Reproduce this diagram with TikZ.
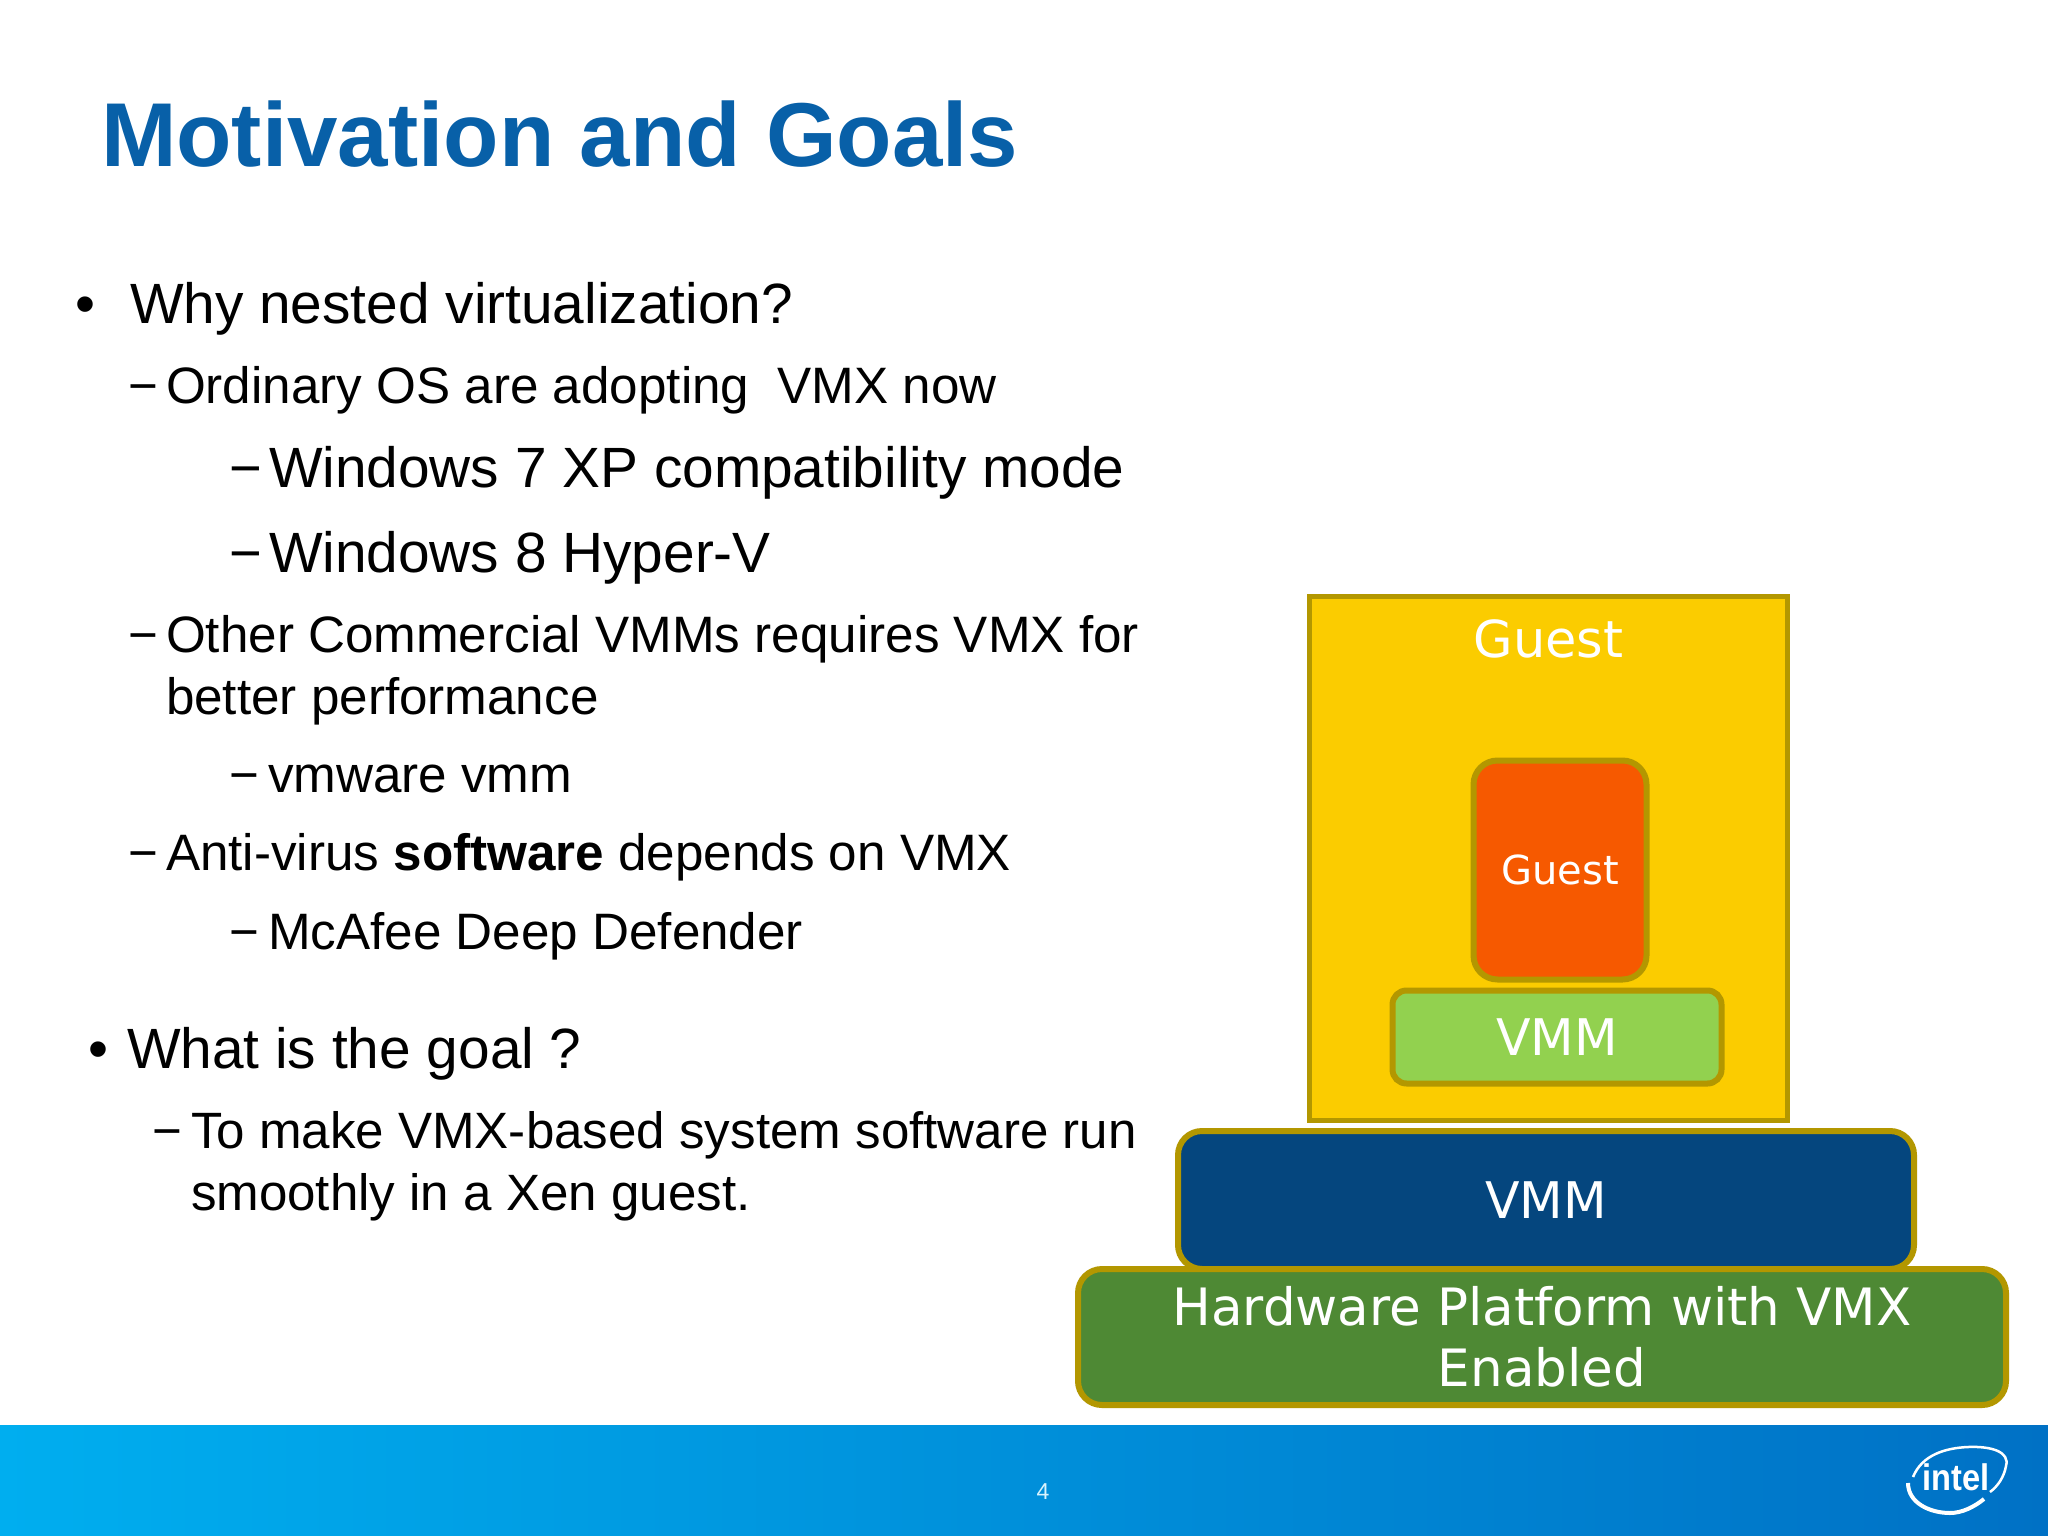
\documentclass[tikz,border=0pt]{standalone}
\usepackage{fontspec}
\setmainfont{Liberation Sans}
\newfontfamily\boxfont{DejaVu Sans}
\usetikzlibrary{positioning,calc}
\definecolor{titleblue}{HTML}{0860A8}
\definecolor{edgegold}{HTML}{B39700}
\definecolor{guestyellow}{HTML}{FBCC00}
\definecolor{guestorange}{HTML}{F65900}
\definecolor{vmmgreen}{HTML}{92D14F}
\definecolor{vmmblue}{HTML}{05467E}
\definecolor{hwgreen}{HTML}{4E8934}
\definecolor{barleft}{HTML}{00AEEF}
\definecolor{barright}{HTML}{0071C5}
\newcommand{\fs}[1]{\fontsize{#1}{#1}\selectfont}
\tikzset{
  line/.style={anchor=base west, inner sep=0pt, outer sep=0pt, text=black},
  layer/.style={draw=edgegold, line width=6pt, rounded corners=24pt, text=white, align=center, font=\boxfont, inner sep=0pt},
}
\begin{document}
\begin{tikzpicture}[x=1pt, y=-1pt]
    \useasboundingbox (0,0) rectangle (2048,1536);
    \fill[white] (0,0) rectangle (2048,1536);
    \shade[left color=barleft, right color=barright] (0,1425) rectangle (2048,1536);
    \node (title) [line, text=titleblue, font=\fs{90.7}\bfseries] at (101,166) {Motivation and Goals};
    % left column
    \node (b1)   [line, font=\fs{56.8}] at (130,323) {Why nested virtualization?};
    \node (dot1) [line, font=\fs{57}] at (75,323) {•};
    \node (l1)   [line, font=\fs{51.2}] at (166,403) {Ordinary OS are adopting\ \ VMX now};
    \node (d1)   [line, font=\fs{51}] at (128,403) {−};
    \node (l2)   [line, font=\fs{56.8}] at (269,487) {Windows 7 XP compatibility mode};
    \node (d2)   [line, font=\fs{56}] at (229,487) {−};
    \node (l3)   [line, font=\fs{56.8}] at (269,572) {Windows 8 Hyper-V};
    \node (d3)   [line, font=\fs{56}] at (229,572) {−};
    \node (l4)   [line, font=\fs{51.2}] at (166,652) {Other Commercial VMMs requires VMX for};
    \node (d4)   [line, font=\fs{51}] at (128,652) {−};
    \node (l4b)  [line, font=\fs{51.2}] at (166,714) {better performance};
    \node (l5)   [line, font=\fs{51.2}] at (268,792) {vmware vmm};
    \node (d5)   [line, font=\fs{51}] at (229,792) {−};
    \node (l6)   [line, font=\fs{51.2}] at (166,870) {Anti-virus \textbf{software} depends on VMX};
    \node (d6)   [line, font=\fs{51}] at (128,870) {−};
    \node (l7)   [line, font=\fs{51.2}] at (268,949) {McAfee Deep Defender};
    \node (d7)   [line, font=\fs{51}] at (229,949) {−};
    \node (b2)   [line, font=\fs{56.8}] at (127,1068) {What is the goal ?};
    \node (dot2) [line, font=\fs{57}] at (88,1068) {•};
    \node (l8)   [line, font=\fs{51.1}] at (191,1148) {To make VMX-based system software run};
    \node (d8)   [line, font=\fs{51}] at (152,1148) {−};
    \node (l8b)  [line, font=\fs{51.1}] at (191,1210) {smoothly in a Xen guest.};
    % stack
    \node (guest) [layer, line width=5pt, rounded corners=0pt, fill=guestyellow, minimum width=478pt, minimum height=524pt] at (1548.5,858) {};
    \node (guesttext) [text=white, font=\boxfont\fs{51}, below=26pt of guest.north, inner sep=0pt] {Guest};
    \node (inner) [layer, fill=guestorange, minimum width=173pt, minimum height=219pt, font=\boxfont\fs{40}] at (1560,870) {Guest};
    \node (vmmin) [layer, rounded corners=14pt, fill=vmmgreen, minimum width=329pt, minimum height=93pt, font=\boxfont\fs{50.5}] at (1557,1037) {VMM};
    \node (vmmout) [layer, fill=vmmblue, minimum width=736pt, minimum height=138pt, font=\boxfont\fs{50.5}] at (1546,1200) {VMM};
    \node (hw) [layer, fill=hwgreen, minimum width=928pt, minimum height=136pt, font=\boxfont\fontsize{51.5}{61}\selectfont] at (1542,1337) {Hardware Platform with VMX\\Enabled};
    % footer
    \node (page) [text=white!85!barleft, font=\fs{23}, inner sep=0pt] at (1043,1492) {4};
    \node (logo) [text=white, font=\bfseries\fs{37}, inner sep=0pt] at (1956,1477) {\scalebox{.88}[1]{intel}};
    \draw[white, line width=2.5pt] (1913,1477) .. controls (1922,1455) and (1945,1448) .. (1968,1447) .. controls (1992,1446) and (2010,1452) .. (2006,1466) .. controls (2004,1477) and (1998,1486) .. (1990,1492);
    \draw[white, line width=4pt] (1908,1483) .. controls (1908,1503) and (1930,1513) .. (1950,1513) .. controls (1962,1513) and (1974,1507) .. (1984,1499);
\end{tikzpicture}
\end{document}
